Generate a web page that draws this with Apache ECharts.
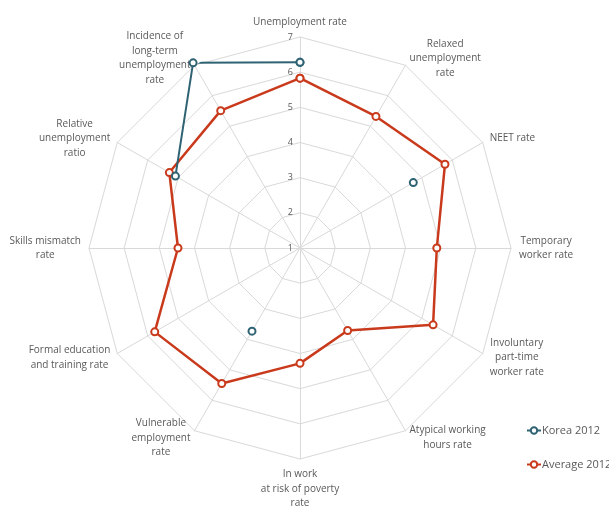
<!DOCTYPE html>
<html>
<head>
<meta charset="utf-8">
<script src="https://cdn.jsdelivr.net/npm/echarts@6/dist/echarts.min.js"></script>
<style>
html,body{margin:0;padding:0;background:#fff;}
#chart{width:609px;height:509px;}
</style>
</head>
<body>
<div id="chart"></div>
<script>
// Indicators in clockwise order starting at the top
var indicators = [
  'Unemployment rate',
  'Relaxed\nunemployment\nrate',
  'NEET rate',
  'Temporary\nworker rate',
  'Involuntary\npart-time\nworker rate',
  'Atypical working\nhours rate',
  'In work\nat risk of poverty\nrate',
  'Vulnerable\nemployment\nrate',
  'Formal education\nand training rate',
  'Skills mismatch\nrate',
  'Relative\nunemployment\nratio',
  'Incidence of\nlong-term\nunemployment\nrate'
];
var korea2012 = [6.28, null, 4.72, null, null, null, null, 3.73, null, null, 5.09, 7.08];
var average2012 = [5.83, 5.32, 5.76, 4.89, 5.37, 3.71, 4.28, 5.45, 5.77, 4.47, 5.29, 5.51];
var axisMin = 1, axisMax = 7;
var seriesNames = ['Korea 2012', 'Average 2012'];

var n = indicators.length;
// Radar lays indicators counter-clockwise; reverse (keeping the first at top) to go clockwise
var radarOrder = [0];
for (var i = n - 1; i >= 1; i--) radarOrder.push(i);

function centered(text) {
  return text.split('\n').map(function (l) { return '{c|' + l + '}'; }).join('\n');
}

var radarIndicators = radarOrder.map(function (idx, k) {
  var o = { name: indicators[idx], min: axisMin, max: axisMax };
  if (k === 0) o.axisLabel = { show: true };
  return o;
});

function polarData(vals) {
  var out = [];
  for (var i = 0; i <= n; i++) {
    var v = vals[i % n];
    out.push(v == null ? '-' : [v, i * 360 / n]);
  }
  return out;
}

var center = [300, 248];
var radius = 211;

var chart = echarts.init(document.getElementById('chart'), null, { renderer: 'canvas' });
chart.setOption({
  animation: false,
  backgroundColor: '#fff',
  textStyle: { fontFamily: 'Open Sans' },
  radar: {
    center: center,
    radius: radius,
    startAngle: 90,
    shape: 'polygon',
    splitNumber: axisMax - axisMin,
    nameGap: 8,
    axisName: {
      color: '#595959',
      fontSize: 10,
      fontFamily: 'Open Sans',
      lineHeight: 14.5,
      formatter: function (v) { return centered(v); },
      rich: { c: { align: 'center', color: '#595959', fontSize: 10, fontFamily: 'Open Sans', lineHeight: 14.5 } }
    },
    axisLine: { lineStyle: { color: '#d9d9d9', width: 1 } },
    splitLine: { lineStyle: { color: '#d9d9d9', width: 1 } },
    splitArea: { show: false },
    axisTick: { show: false },
    axisLabel: {
      show: false,
      color: '#595959',
      fontSize: 9,
      fontFamily: 'Open Sans',
      margin: 7,
      showMinLabel: true,
      showMaxLabel: true
    },
    indicator: radarIndicators
  },
  polar: { center: center, radius: radius },
  angleAxis: {
    type: 'value', min: 0, max: 360, startAngle: 90, clockwise: true, show: false,
    splitLine: { show: false }, axisLine: { show: false }, axisLabel: { show: false }, axisTick: { show: false }
  },
  radiusAxis: {
    type: 'value', min: axisMin, max: axisMax, show: false,
    splitLine: { show: false }, axisLine: { show: false }, axisLabel: { show: false }, axisTick: { show: false }
  },
  legend: {
    orient: 'vertical',
    left: 526,
    top: 425,
    itemGap: 23,
    itemWidth: 14,
    itemHeight: 8,
    padding: 0,
    textStyle: { color: '#595959', fontSize: 11, fontFamily: 'Open Sans', padding: [0, 0, 0, -4] },
    data: seriesNames
  },
  series: [
    {
      name: seriesNames[0],
      type: 'line',
      coordinateSystem: 'polar',
      data: polarData(korea2012),
      connectNulls: false,
      clip: false,
      symbol: 'emptyCircle',
      symbolSize: 7,
      showSymbol: true,
      showAllSymbol: true,
      z: 3,
      color: '#2f6373',
      lineStyle: { color: '#2f6373', width: 2 },
      itemStyle: { color: '#2f6373', borderWidth: 2, borderColor: '#2f6373' }
    },
    {
      name: seriesNames[1],
      type: 'line',
      coordinateSystem: 'polar',
      data: polarData(average2012),
      clip: false,
      symbol: 'emptyCircle',
      symbolSize: 7,
      showSymbol: true,
      showAllSymbol: true,
      z: 2,
      color: '#c93a1c',
      lineStyle: { color: '#c93a1c', width: 2.5 },
      itemStyle: { color: '#c93a1c', borderWidth: 2, borderColor: '#c93a1c' }
    }
  ]
});
</script>
</body>
</html>
